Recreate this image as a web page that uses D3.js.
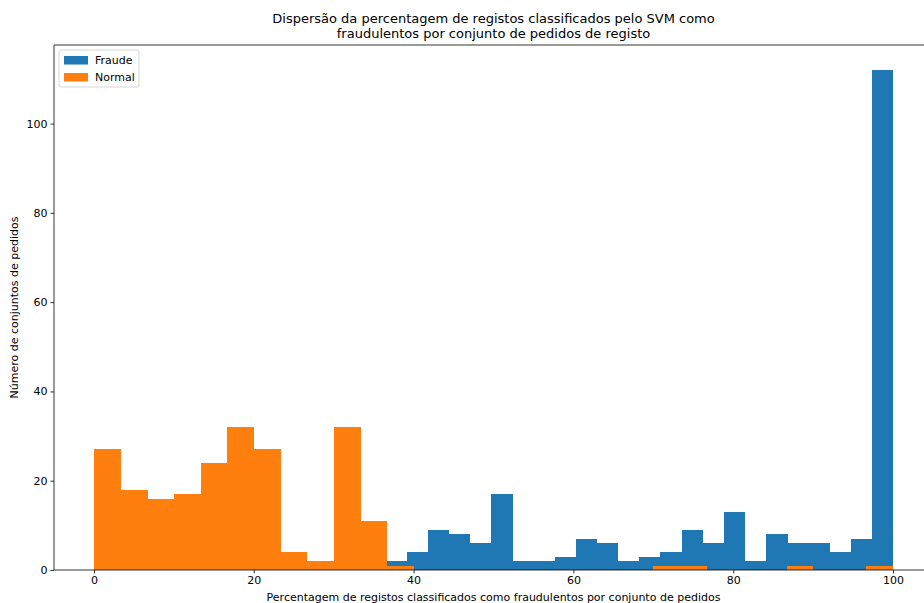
<!DOCTYPE html>
<html>
<head>
<meta charset="utf-8">
<script src="https://cdnjs.cloudflare.com/ajax/libs/d3/7.8.5/d3.min.js"></script>
<style>
  html, body { margin: 0; padding: 0; background: #fff; }
  svg { display: block; font-family: "DejaVu Sans", sans-serif; }
</style>
</head>
<body>
<svg id="chart" width="924" height="603"></svg>
<script>
// Histogram counts per bin (percentage of records flagged as fraudulent)
const normalStart = 0, normalEnd = 100, normalBins = 30;
const normalCounts = [27, 18, 16, 17, 24, 32, 27, 4, 2, 32, 11, 1,
                      0, 0, 0, 0, 0, 0, 0, 0, 0,
                      1, 1, 0, 0, 0, 1, 0, 0, 1];

const fraudStart = 36.5, fraudEnd = 100, fraudBins = 24;
const fraudCounts = [2, 4, 9, 8, 6, 17, 2, 2, 3, 7, 6, 2,
                     3, 4, 9, 6, 13, 2, 8, 6, 6, 4, 7, 112];

const xTicks = [0, 20, 40, 60, 80, 100];
const yTicks = [0, 20, 40, 60, 80, 100];

const seriesNames = ["Fraude", "Normal"];
const colors = { Fraude: "#1f77b4", Normal: "#ff7f0e" };

const titleLines = ["Dispersão da percentagem de registos classificados pelo SVM como",
                    "fraudulentos por conjunto de pedidos de registo"];
const xLabel = "Percentagem de registos classificados como fraudulentos por conjunto de pedidos";
const yLabel = "Número de conjuntos de pedidos";

function toBins(start, end, n, counts) {
  const w = (end - start) / n;
  return counts.map((c, i) => ({ x0: start + i * w, x1: start + (i + 1) * w, count: c }));
}
const fraudData = toBins(fraudStart, fraudEnd, fraudBins, fraudCounts);
const normalData = toBins(normalStart, normalEnd, normalBins, normalCounts);

const svg = d3.select("#chart");
const margin = { left: 54, top: 45, bottom: 33 };
const plotW = 933 - margin.left;
const plotH = 603 - margin.top - margin.bottom;

const x = d3.scaleLinear().domain([-5, 105]).range([margin.left, margin.left + plotW]);
const yMax = d3.max(fraudCounts.concat(normalCounts)) * 1.05;
const y = d3.scaleLinear().domain([0, yMax]).range([margin.top + plotH, margin.top]);

// bars
function drawBars(data, color) {
  svg.append("g").attr("shape-rendering", "crispEdges")
    .selectAll("rect").data(data.filter(d => d.count > 0)).join("rect")
    .attr("x", d => x(d.x0))
    .attr("width", d => x(d.x1) - x(d.x0) + 0.3)
    .attr("y", d => y(d.count))
    .attr("height", d => y(0) - y(d.count))
    .attr("fill", color);
}
drawBars(fraudData, colors.Fraude);
drawBars(normalData, colors.Normal);

// axes
const xAxis = d3.axisBottom(x).tickValues(xTicks).tickSize(3.5).tickPadding(3);
const yAxis = d3.axisLeft(y).tickValues(yTicks).tickSize(3.5).tickPadding(3);

const gx = svg.append("g").attr("transform", `translate(0,${y(0)})`).call(xAxis);
const gy = svg.append("g").attr("transform", `translate(${margin.left},0)`).call(yAxis);
[gx, gy].forEach(g => {
  g.select(".domain").remove();
  g.selectAll("line").attr("stroke", "#000").attr("stroke-width", 0.8);
  g.selectAll("text").attr("fill", "#000").style("font-size", "11px")
    .style("font-family", "DejaVu Sans, sans-serif");
});

// frame (spines)
const spine = svg.append("g").attr("stroke", "#000").attr("stroke-width", 0.8).attr("fill", "none");
spine.append("line").attr("x1", margin.left).attr("x2", margin.left)
  .attr("y1", margin.top).attr("y2", margin.top + plotH);
spine.append("line").attr("x1", margin.left).attr("x2", margin.left + plotW)
  .attr("y1", margin.top).attr("y2", margin.top);
spine.append("line").attr("x1", margin.left).attr("x2", margin.left + plotW)
  .attr("y1", margin.top + plotH).attr("y2", margin.top + plotH);
spine.append("line").attr("x1", margin.left + plotW).attr("x2", margin.left + plotW)
  .attr("y1", margin.top).attr("y2", margin.top + plotH);

// title
const cx = margin.left + plotW / 2;
svg.append("g").selectAll("text").data(titleLines).join("text")
  .attr("x", cx).attr("y", (d, i) => 23 + i * 15)
  .attr("text-anchor", "middle").style("font-size", "13px").attr("fill", "#000")
  .text(d => d);

// axis labels
svg.append("text").attr("x", cx).attr("y", 601)
  .attr("text-anchor", "middle").style("font-size", "11px").attr("fill", "#000")
  .text(xLabel);
svg.append("text")
  .attr("transform", `translate(18,${margin.top + plotH / 2}) rotate(-90)`)
  .attr("text-anchor", "middle").style("font-size", "11px").attr("fill", "#000")
  .text(yLabel);

// legend
const lg = svg.append("g").attr("transform", "translate(59,50)");
lg.append("rect").attr("width", 80).attr("height", 37).attr("rx", 2)
  .attr("fill", "#fff").attr("fill-opacity", 0.8).attr("stroke", "#ccc").attr("stroke-width", 0.8);
seriesNames.forEach((name, i) => {
  lg.append("rect").attr("x", 5).attr("y", 6 + i * 17).attr("width", 24).attr("height", 8.5)
    .attr("fill", colors[name]);
  lg.append("text").attr("x", 36).attr("y", 14 + i * 17).style("font-size", "11px")
    .attr("fill", "#000").text(name);
});
</script>
</body>
</html>
